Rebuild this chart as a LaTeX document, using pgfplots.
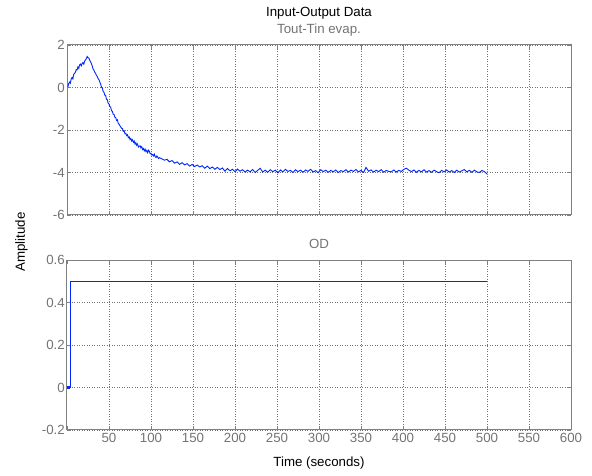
\documentclass[border=0pt]{standalone}
\usepackage{pgfplots}
\pgfplotsset{compat=1.18}
\usepackage{fontspec}
\setmainfont{Liberation Sans}
\definecolor{tickgray}{gray}{0.45}
\definecolor{framegray}{gray}{0.5}
\definecolor{gridgray}{gray}{0.45}
\definecolor{sigblue}{rgb}{0,0.15,1}
\pgfplotsset{
  mlstyle/.style={
    scale only axis,
    width=504pt, height=170pt,
    xmin=0, xmax=600,
    xtick={0,50,...,600},
    grid=major,
    major grid style={dash pattern=on 1pt off 1.5pt, gridgray, line width=0.6pt},
    axis line style={framegray, line width=1pt},
    tick style={framegray, line width=0.8pt},
    tick align=inside,
    major tick length=4pt,
    ticklabel style={tickgray, font=\fontsize{13.3}{16}\selectfont},
    /pgf/number format/assume math mode=true,
    yticklabel style={inner sep=2pt},
    xticklabel style={inner sep=3pt},
  }
}
\begin{document}
\begin{tikzpicture}
\useasboundingbox (-67pt,45pt) rectangle (525pt,-431pt);
\begin{axis}[mlstyle, name=top, at={(0,0)}, anchor=north west,
  ymin=-6, ymax=2, ytick={-6,-4,...,2},
  xticklabels={}]
\addplot[sigblue, line width=0.9pt] coordinates {
(1,0.02) (2,0.18) (3,0.25) (4,0.20) (5,0.40) (6,0.47) (7,0.40) (8,0.62)
(9,0.66) (10,0.72) (11,0.84) (12,0.83) (13,0.97) (14,0.90) (15,1.06)
(16,1.10) (17,1.02) (18,1.13) (19,1.17) (20,1.10) (21,1.24) (22,1.30)
(23,1.36) (24,1.46) (25,1.40) (26,1.39) (27,1.28) (28,1.22) (29,1.13)
(30,1.02) (31,0.88) (32,0.82) (33,0.72) (34,0.67) (35,0.57) (36,0.52)
(37,0.42) (38,0.37) (39,0.26) (40,0.17) (41,0.02) (42,-0.02) (43,-0.18)
(44,-0.22) (45,-0.36) (46,-0.38) (47,-0.55) (48,-0.58) (49,-0.74)
(50,-0.78) (51,-0.90) (52,-0.92) (53,-1.10) (54,-1.12) (55,-1.26)
(56,-1.27) (57,-1.40) (58,-1.42) (59,-1.55) (60,-1.52) (61,-1.70)
(62,-1.72) (63,-1.80) (64,-1.86) (65,-1.92) (66,-1.93) (67,-2.06)
(68,-2.03) (69,-2.18) (70,-2.16) (71,-2.26) (72,-2.22) (73,-2.36)
(74,-2.32) (75,-2.45) (76,-2.40) (77,-2.52) (78,-2.46) (79,-2.58)
(80,-2.52) (81,-2.66) (82,-2.60) (83,-2.72) (84,-2.66) (85,-2.80)
(86,-2.76) (87,-2.74) (88,-2.84) (89,-2.78) (90,-2.92) (91,-2.87)
(92,-2.98) (93,-2.90) (94,-3.02) (95,-2.96) (96,-3.07) (97,-2.95)
(98,-3.00) (99,-3.12) (100,-3.10) (101,-3.18) (102,-3.15) (103,-3.22)
(104,-3.14) (105,-3.26) (106,-3.30) (107,-3.22) (108,-3.28) (109,-3.34)
(110,-3.30) (113,-3.36) (116,-3.42) (119,-3.38) (122,-3.50) (125,-3.44)
(128,-3.56) (131,-3.50) (134,-3.62) (137,-3.54) (140,-3.64) (143,-3.58)
(146,-3.70) (149,-3.62) (152,-3.72) (155,-3.65) (158,-3.74) (161,-3.68)
(164,-3.80) (167,-3.70) (170,-3.82) (173,-3.74) (176,-3.85) (179,-3.76)
(182,-3.86) (185,-3.79) (188,-3.94) (191,-3.81) (194,-3.92) (197,-3.85)
(200,-3.96) (203,-3.84) (206,-3.94) (209,-3.87) (212,-3.98) (215,-3.89)
(218,-3.97) (221,-3.86) (224,-4.00) (227,-3.90) (230,-3.80) (233,-3.98)
(236,-3.89) (239,-3.99) (242,-3.87) (245,-3.96) (248,-3.89) (251,-4.02)
(254,-3.88) (257,-3.97) (260,-3.85) (263,-3.95) (266,-3.90) (269,-4.00)
(272,-3.87) (275,-3.96) (278,-3.89) (281,-3.99) (284,-3.88) (287,-3.95)
(290,-3.85) (293,-3.98) (296,-3.91) (299,-4.01) (302,-3.87) (305,-3.96)
(308,-3.89) (311,-3.99) (314,-3.90) (317,-3.97) (320,-3.88) (323,-4.00)
(326,-3.91) (329,-3.96) (332,-3.87) (335,-3.98) (338,-3.89) (341,-3.95)
(344,-3.86) (347,-3.97) (350,-3.90) (353,-4.00) (356,-3.76) (359,-3.94)
(362,-3.88) (365,-3.98) (368,-3.89) (371,-3.96) (374,-3.87) (377,-3.99)
(380,-3.90) (383,-3.95) (386,-3.97) (389,-3.88) (392,-3.98) (395,-3.90)
(398,-3.95) (401,-3.85) (404,-3.80) (407,-3.89) (410,-3.96) (413,-3.88)
(416,-3.99) (419,-3.90) (422,-3.97) (425,-3.87) (428,-3.98) (431,-3.91)
(434,-3.99) (437,-3.89) (440,-3.96) (443,-4.01) (446,-3.90) (449,-3.97)
(452,-3.88) (455,-3.98) (458,-3.91) (461,-4.00) (464,-3.89) (467,-3.98)
(470,-3.92) (473,-3.86) (476,-3.97) (479,-3.90) (482,-3.99) (485,-3.89)
(488,-3.97) (491,-4.00) (494,-3.90) (497,-3.96) (500,-4.07)
};
\end{axis}
\begin{axis}[mlstyle, name=bot, at={(0,-215pt)}, anchor=north west,
  ymin=-0.2, ymax=0.6, ytick={-0.2,0,...,0.6},
  yticklabel style={/pgf/number format/fixed, /pgf/number format/precision=1},
  xtick={50,100,...,600},
  extra x ticks={0}, extra x tick labels={},
  extra x tick style={grid=none}]
\addplot[sigblue, line width=0.9pt] coordinates {
(2,0) (4,0) (4,0.5) (500,0.5)
};
\addplot[sigblue, only marks, mark=square*, mark size=1pt] coordinates {(2,0)};
\end{axis}
\node[anchor=base, font=\fontsize{13.3}{16}\selectfont] at ([yshift=28pt]top.north) {Input-Output Data};
\node[anchor=base, font=\fontsize{13.3}{16}\selectfont, text=tickgray] at ([yshift=11pt]top.north) {Tout-Tin evap.};
\node[anchor=base, font=\fontsize{13.3}{16}\selectfont, text=tickgray] at ([yshift=11pt]bot.north) {OD};
\node[anchor=base, font=\fontsize{13.3}{16}\selectfont] at ([yshift=-37pt]bot.south) {Time (seconds)};
\node[rotate=90, anchor=base, font=\fontsize{13.3}{16}\selectfont] at (-42pt,-197pt) {Amplitude};
\end{tikzpicture}
\end{document}
